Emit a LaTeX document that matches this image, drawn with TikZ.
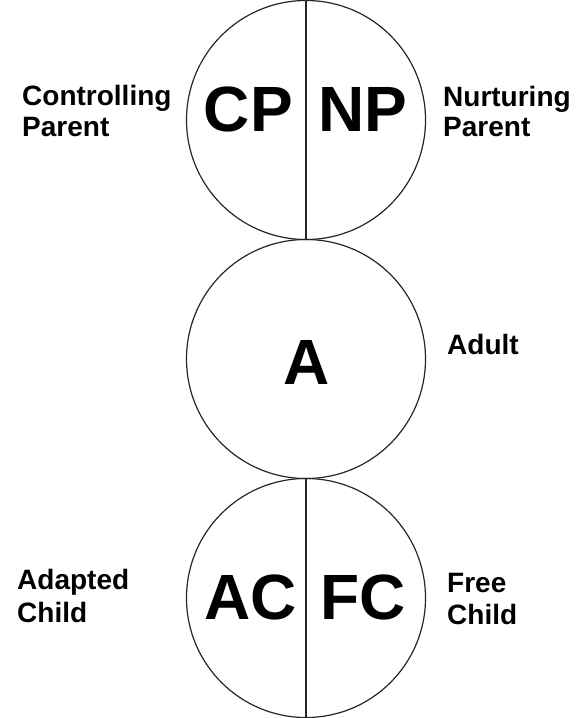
\documentclass[tikz,border=0pt]{standalone}
\usepackage{fontspec}
\setmainfont{Liberation Sans}
\begin{document}
\begin{tikzpicture}[x=1pt,y=-1pt,
  ring/.style={circle,draw=black!85,line width=1.2pt,minimum size=239pt,inner sep=0pt},
  divider/.style={draw=black!85,line width=1.2pt},
  big/.style={inner sep=0pt,font=\fontsize{64}{70}\selectfont\bfseries},
  lbl/.style={inner sep=0pt,anchor=base west,font=\fontsize{28}{32}\selectfont\bfseries}]
\useasboundingbox (0,0) rectangle (586,718);
\node[ring] (parent) at (306,120) {};
\node[ring] (adult) at (306,359) {};
\node[ring] (child) at (306,598) {};
\draw[divider] (parent.north) -- (parent.south);
\draw[divider] (child.north) -- (child.south);
\node[big,anchor=base east] (cp) at (293,131) {CP};
\node[big,anchor=base west] (np) at (318,131) {NP};
\node[big,anchor=base] (a) at (307,384) {A};
\node[big,anchor=base east] (ac) at (297,619) {AC};
\node[big,anchor=base west] (fc) at (320,619) {FC};
\node[lbl] (cpl1) at (22,105) {Controlling};
\node[lbl] (cpl2) at (22,136) {Parent};
\node[lbl] (npl1) at (443,106) {Nurturing};
\node[lbl] (npl2) at (443,136) {Parent};
\node[lbl] (al) at (447,354) {Adult};
\node[lbl] (acl1) at (17,589) {Adapted};
\node[lbl] (acl2) at (17,622) {Child};
\node[lbl] (fcl1) at (447,592) {Free};
\node[lbl] (fcl2) at (447,624) {Child};
\end{tikzpicture}
\end{document}
